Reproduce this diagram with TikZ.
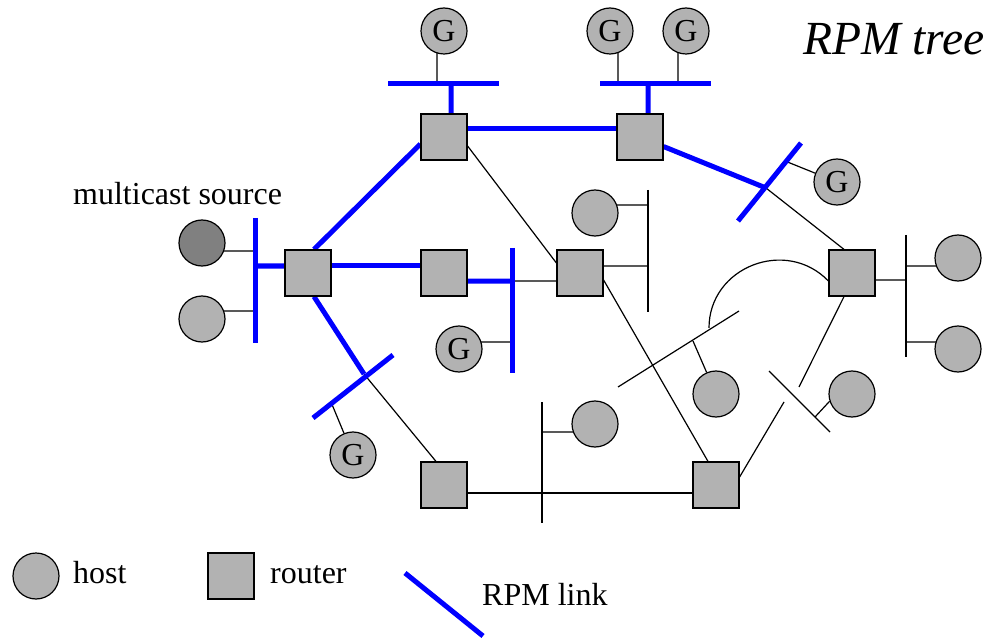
\documentclass[tikz,border=0pt]{standalone}
\usepackage{fontspec}
\setmainfont{Liberation Serif}
\pgfdeclarelayer{bg}
\pgfsetlayers{bg,main}
\definecolor{nodegray}{gray}{0.70}
\definecolor{srcgray}{gray}{0.50}
\definecolor{rpmblue}{rgb}{0,0,1}
\tikzset{
  router/.style={draw=black, line width=1.2bp, fill=nodegray, minimum size=46bp, inner sep=0pt},
  host/.style={circle, draw=black, line width=1.2bp, fill=nodegray, minimum size=46bp, inner sep=0pt,
               font=\fontsize{32bp}{36bp}\selectfont},
  source/.style={host, fill=srcgray},
  wire/.style={draw=black, line width=1.2bp},
  rpm/.style={draw=rpmblue, line width=5bp},
  label/.style={anchor=base west, inner sep=0pt, font=\fontsize{32bp}{36bp}\selectfont},
}
\begin{document}
\begin{tikzpicture}[x=1bp, y=-1bp]
\useasboundingbox (0,0) rectangle (997,639);

% routers
\node[router] (r1) at (444,137) {};
\node[router] (r2) at (640,137) {};
\node[router] (r3) at (308,273) {};
\node[router] (r4) at (444,273) {};
\node[router] (r5) at (580,273) {};
\node[router] (r6) at (852,273) {};
\node[router] (r7) at (444,485) {};
\node[router] (r8) at (716,485) {};

% hosts and group members
\node[host] (g1) at (444,31) {G};
\node[host] (g2) at (610,31) {G};
\node[host] (g3) at (686,31) {G};
\node[host] (g4) at (837,182) {G};
\node[source] (src) at (202,243) {};
\node[host] (h1) at (202,319) {};
\node[host] (g5) at (459,349) {G};
\node[host] (h2) at (595,213) {};
\node[host] (h3) at (958,258) {};
\node[host] (h4) at (958,349) {};
\node[host] (h5) at (716,394) {};
\node[host] (h6) at (852,394) {};
\node[host] (h7) at (595,424) {};
\node[host] (g6) at (353,455) {G};

% LAN segment end points and taps
\coordinate (b1w) at (388,84);  \coordinate (b1e) at (499,84);
\coordinate (b1r) at (451,84);  \coordinate (b1g) at (437,84);
\coordinate (b2w) at (600,84);  \coordinate (b2e) at (711,84);
\coordinate (b2r) at (648,84);  \coordinate (b2g) at (618,84);  \coordinate (b2h) at (678,84);
\coordinate (b3n) at (255,218); \coordinate (b3s) at (255,343);
\coordinate (b3r) at (255,266); \coordinate (b3a) at (255,251); \coordinate (b3b) at (255,311);
\coordinate (b4n) at (512,248); \coordinate (b4s) at (512,373);
\coordinate (b4r) at (512,281); \coordinate (b4g) at (512,342);
\coordinate (x1) at (766,188);  \coordinate (x1a) at (738,221); \coordinate (x1b) at (801,143);
\coordinate (x1g) at (785,161);
\coordinate (x2) at (364,374);  \coordinate (x2a) at (313,418); \coordinate (x2b) at (393,355);
\coordinate (x2g) at (331,402);
\coordinate (b5n) at (648,190); \coordinate (b5s) at (648,312);
\coordinate (b5r) at (648,266); \coordinate (b5h) at (648,205);
\coordinate (m1) at (618,387);  \coordinate (m2) at (739,311);
\coordinate (m3) at (693,341);  \coordinate (arcs) at (709,328);
\coordinate (n1) at (769,371);  \coordinate (n2) at (830,432);  \coordinate (n3) at (815,417);
\coordinate (q1) at (799,387);  \coordinate (q2) at (784,402);
\coordinate (b6n) at (906,235); \coordinate (b6s) at (906,357);
\coordinate (b6r) at (906,280); \coordinate (b6a) at (906,266); \coordinate (b6b) at (906,342);
\coordinate (b7n) at (542,402); \coordinate (b7s) at (542,523);
\coordinate (b7h) at (542,432); \coordinate (b7m) at (542,493);

\begin{pgfonlayer}{bg}
  % ordinary links
  \draw[wire] ([xshift=-7bp]g1.center) -- (b1g);
  \draw[wire] ([xshift=8bp]g2.center) -- (b2g);
  \draw[wire] ([xshift=-8bp]g3.center) -- (b2h);
  \draw[wire] (x1g) -- (g4);
  \draw[wire] (x1) -- ([xshift=-8bp]r6.north);
  \draw[wire] ([yshift=-8bp]src.center) -- (b3a);
  \draw[wire] ([yshift=8bp]h1.center) -- (b3b);
  \draw[wire] ([yshift=7bp]g5.center) -- (b4g);
  \draw[wire] (b4r) -- ([yshift=-8bp]r5.center);
  \draw[wire] (x2) -- ([xshift=-8bp]r7.north);
  \draw[wire] (x2g) -- (g6);
  \draw[wire] ([yshift=-9bp]r1.east) -- ([yshift=10bp]r5.west);
  \draw[wire] ([yshift=7bp]r5.center) -- (b5r);
  \draw[wire] (b5n) -- (b5s);
  \draw[wire] ([yshift=8bp]h2.center) -- (b5h);
  \draw[wire] ([yshift=-7bp]r5.east) -- ([xshift=-8bp]r8.north);
  \draw[wire] (m1) -- (m2);
  \draw[wire] (m3) -- (h5);
  \draw[wire] (arcs) .. controls (709,267) and (786,237) .. ([yshift=-8bp]r6.west);
  \draw[wire] ([xshift=-8bp]r6.south) -- (q1);
  \draw[wire] (q2) -- ([yshift=8bp]r8.east);
  \draw[wire] (n1) -- (n2);
  \draw[wire] (n3) -- (h6.198);
  \draw[wire] ([yshift=-7bp]r6.center) -- (b6r);
  \draw[wire] (b6n) -- (b6s);
  \draw[wire] (b6a) -- ([yshift=-8bp]h3.center);
  \draw[wire] (b6b) -- ([yshift=7bp]h4.center);
  \draw[wire] ([yshift=-8bp]r7.center) -- ([yshift=-8bp]r8.center);
  \draw[wire] (b7n) -- (b7s);
  \draw[wire] (b7h) -- ([yshift=-8bp]h7.center);

  % RPM tree links
  \draw[rpm] (b1w) -- (b1e);
  \draw[rpm] (b1r) -- ([xshift=7bp]r1.center);
  \draw[rpm] (b2w) -- (b2e);
  \draw[rpm] (b2r) -- ([xshift=8bp]r2.center);
  \draw[rpm] ([yshift=8bp]r1.center) -- ([yshift=8bp]r2.center);
  \draw[rpm] (r2) -- (x1);
  \draw[rpm] (x1a) -- (x1b);
  \draw[rpm] ([yshift=-7bp]r1.west) -- ([xshift=6bp]r3.north);
  \draw[rpm] (b3n) -- (b3s);
  \draw[rpm] (b3r) -- ([yshift=7bp]r3.center);
  \draw[rpm] ([yshift=7bp]r3.center) -- ([yshift=7bp]r4.center);
  \draw[rpm] ([yshift=-8bp]r4.center) -- (b4r);
  \draw[rpm] (b4n) -- (b4s);
  \draw[rpm] ([xshift=6bp]r3.south) -- (x2);
  \draw[rpm] (x2a) -- (x2b);
\end{pgfonlayer}

% labels
\node[label] (lsrc) at (73,205) {multicast source};
\node[label, font=\fontsize{47.5bp}{52bp}\selectfont\itshape] (ltitle) at (803,55) {RPM tree};

% key
\node[host] (khost) at (36,576) {};
\node[label] (lhost) at (73,583) {host};
\node[router] (krouter) at (231,576) {};
\node[label] (lrouter) at (270,583) {router};
\coordinate (k1) at (405,573);
\coordinate (k2) at (483,636);
\draw[rpm] (k1) -- (k2);
\node[label] (lrpm) at (482,605) {RPM link};
\end{tikzpicture}
\end{document}
